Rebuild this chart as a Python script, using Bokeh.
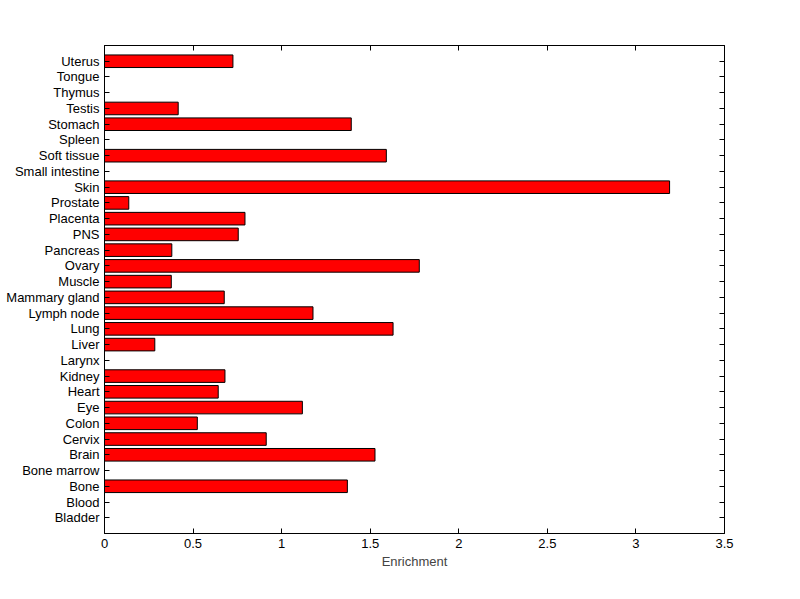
from bokeh.plotting import figure
from bokeh.models import FixedTicker, LinearAxis, Range1d
from bokeh.embed import file_html
from bokeh.resources import INLINE

tissues = ["Bladder", "Blood", "Bone", "Bone marrow", "Brain", "Cervix", "Colon",
           "Eye", "Heart", "Kidney", "Larynx", "Liver", "Lung", "Lymph node",
           "Mammary gland", "Muscle", "Ovary", "Pancreas", "PNS", "Placenta",
           "Prostate", "Skin", "Small intestine", "Soft tissue", "Spleen",
           "Stomach", "Testis", "Thymus", "Tongue", "Uterus"]
enrichment = [0.0, 0.0, 1.371, 0.0, 1.527, 0.913, 0.524,
              1.117, 0.642, 0.680, 0.0, 0.284, 1.629, 1.177,
              0.676, 0.377, 1.777, 0.38, 0.755, 0.793,
              0.137, 3.19, 0.0, 1.591, 0.0,
              1.393, 0.416, 0.0, 0.0, 0.725]
x_ticks = [0, 0.5, 1, 1.5, 2, 2.5, 3, 3.5]
x_tick_labels = ["0", "0.5", "1", "1.5", "2", "2.5", "3", "3.5"]

positions = list(range(1, len(tissues) + 1))
FONT = "Liberation Sans"
FS = "13px"

p = figure(frame_width=620, frame_height=488, output_backend="svg", toolbar_location=None,
           x_range=Range1d(0, 3.5), y_range=Range1d(0, len(tissues) + 1),
           min_border_left=104, min_border_right=60, min_border_top=45, min_border_bottom=50)
p.xgrid.visible = False
p.ygrid.visible = False
p.outline_line_color = "black"
p.outline_line_width = 1
p.background_fill_color = "white"
p.border_fill_color = "white"

p.hbar(y=positions, right=enrichment, left=0, height=0.8,
       fill_color="#ff0000", line_color="black", line_width=1)

def style(ax, labels=True):
    ax.major_tick_in = 5
    ax.major_tick_out = 0
    ax.minor_tick_in = 0
    ax.minor_tick_out = 0
    ax.axis_line_color = "black"
    ax.major_tick_line_color = "black"
    ax.major_label_text_font = FONT
    ax.major_label_text_font_size = FS
    ax.major_label_text_color = "black"
    ax.major_label_standoff = 5 if labels else 0

xa = p.xaxis[0]
xa.ticker = FixedTicker(ticks=x_ticks)
xa.major_label_overrides = {t: l for t, l in zip(x_ticks, x_tick_labels)}
style(xa)
xa.axis_label = "Enrichment"
xa.axis_label_text_font = FONT
xa.axis_label_text_font_size = FS
xa.axis_label_text_font_style = "normal"
xa.axis_label_standoff = 3

ya = p.yaxis[0]
ya.ticker = FixedTicker(ticks=positions)
ya.major_label_overrides = {pos: name for pos, name in zip(positions, tissues)}
style(ya)

top = LinearAxis(ticker=FixedTicker(ticks=x_ticks))
style(top, labels=False)
top.major_label_overrides = {t: "" for t in x_ticks}
p.add_layout(top, "above")
right = LinearAxis(ticker=FixedTicker(ticks=positions))
style(right, labels=False)
right.major_label_overrides = {pos: "" for pos in positions}
p.add_layout(right, "right")

open("out.html", "w").write(file_html(p, INLINE))
